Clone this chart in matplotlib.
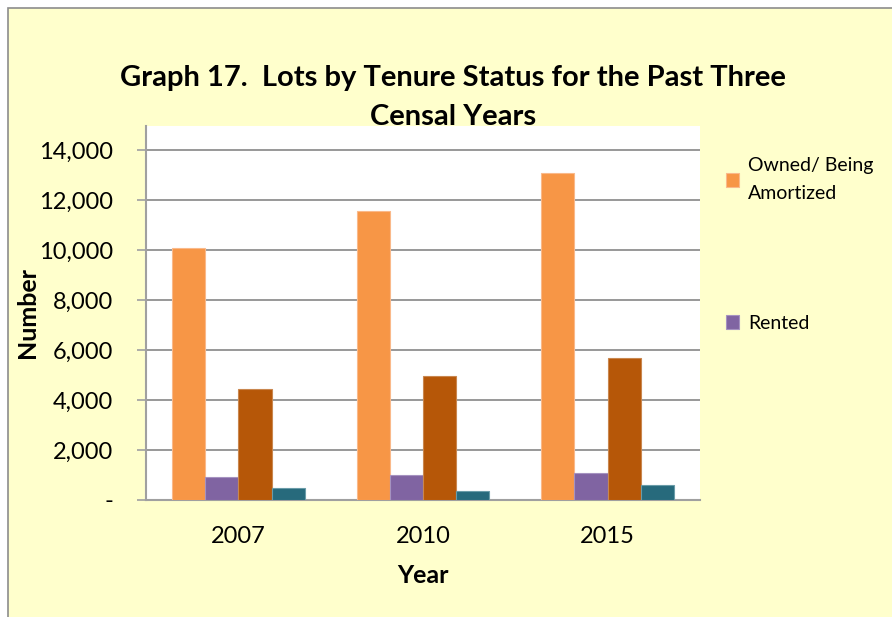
import matplotlib.pyplot as plt
import matplotlib.patches as mpatches
import numpy as np
from matplotlib.ticker import FuncFormatter

# Data
years = ['2007', '2010', '2015']
owned = [10100, 11550, 13070]
rented = [930, 990, 1090]
series3 = [4450, 4950, 5670]
series4 = [470, 360, 590]
legend_labels = ['Owned/ Being\nAmortized', 'Rented']

colors = ['#F79646', '#8064A2', '#B65708', '#276A7C']
edges = ['#FAB98A', '#A592C0', '#C9874F', '#6A9CA8']

plt.rcParams['font.family'] = ['Lato', 'DejaVu Sans']

fig = plt.figure(figsize=(8.92, 6.17), dpi=100)
fig.patch.set_facecolor('white')

# yellow chart area with gray border
bg = mpatches.Rectangle((8 / 892, -0.01), 1.0, 1 - 8 / 617 + 0.01,
                        transform=fig.transFigure, facecolor='#FFFFCC',
                        edgecolor='#8C8C8C', linewidth=1.2, zorder=-10)
fig.patches.append(bg)

ax = fig.add_axes([146 / 892, 1 - 500 / 617, (700 - 146) / 892, (500 - 126) / 617])
ax.set_facecolor('white')

x = np.arange(len(years))
w = 0.18
series = [owned, rented, series3, series4]
bars = []
for i, vals in enumerate(series):
    b = ax.bar(x + (i - 1.5) * w, vals, w, color=colors[i],
               edgecolor=edges[i], linewidth=0.8, zorder=3)
    bars.append(b)

ax.set_xlim(-0.5, 2.5)
ax.set_ylim(0, 14000 * (374 / 350))
ax.set_yticks(range(0, 14001, 2000))
ax.yaxis.set_major_formatter(FuncFormatter(lambda v, p: '-' if v == 0 else f'{int(v):,}'))
ax.grid(axis='y', color='#868686', linewidth=1.2, zorder=1)
ax.set_axisbelow(True)

for s in ['top', 'right']:
    ax.spines[s].set_visible(False)
ax.spines['left'].set_color('#A0A0A0')
ax.spines['left'].set_linewidth(1.5)
ax.spines['bottom'].set_color('#A0A0A0')
ax.spines['bottom'].set_linewidth(1.5)

ax.tick_params(axis='y', length=6.5, color='#A0A0A0', width=1.2, labelsize=17, pad=17)
ax.tick_params(axis='x', length=0, labelsize=17, pad=19)
ax.set_xticks(x)
ax.set_xticklabels(years)

ax.set_xlabel('Year', fontsize=18, fontweight='bold', labelpad=12)
ax.set_ylabel('Number', fontsize=18, fontweight='bold', labelpad=0)

fig.text(0.508, 1 - 78 / 617, 'Graph 17.  Lots by Tenure Status for the Past Three',
         ha='center', va='center', fontsize=21, fontweight='bold')
fig.text(0.508, 1 - 117 / 617, 'Censal Years',
         ha='center', va='center', fontsize=21, fontweight='bold')

# legend (only two entries visible in the original)
leg = fig.legend([bars[0], bars[1]], legend_labels, loc='upper left',
                 bbox_to_anchor=(708 / 892, 1 - 140 / 617), frameon=False,
                 fontsize=14, labelspacing=5.8, handlelength=0.7,
                 handleheight=0.7, handletextpad=0.45)
for t in leg.get_texts():
    t.set_linespacing(1.75)

plt.savefig('out.png', dpi=100)
